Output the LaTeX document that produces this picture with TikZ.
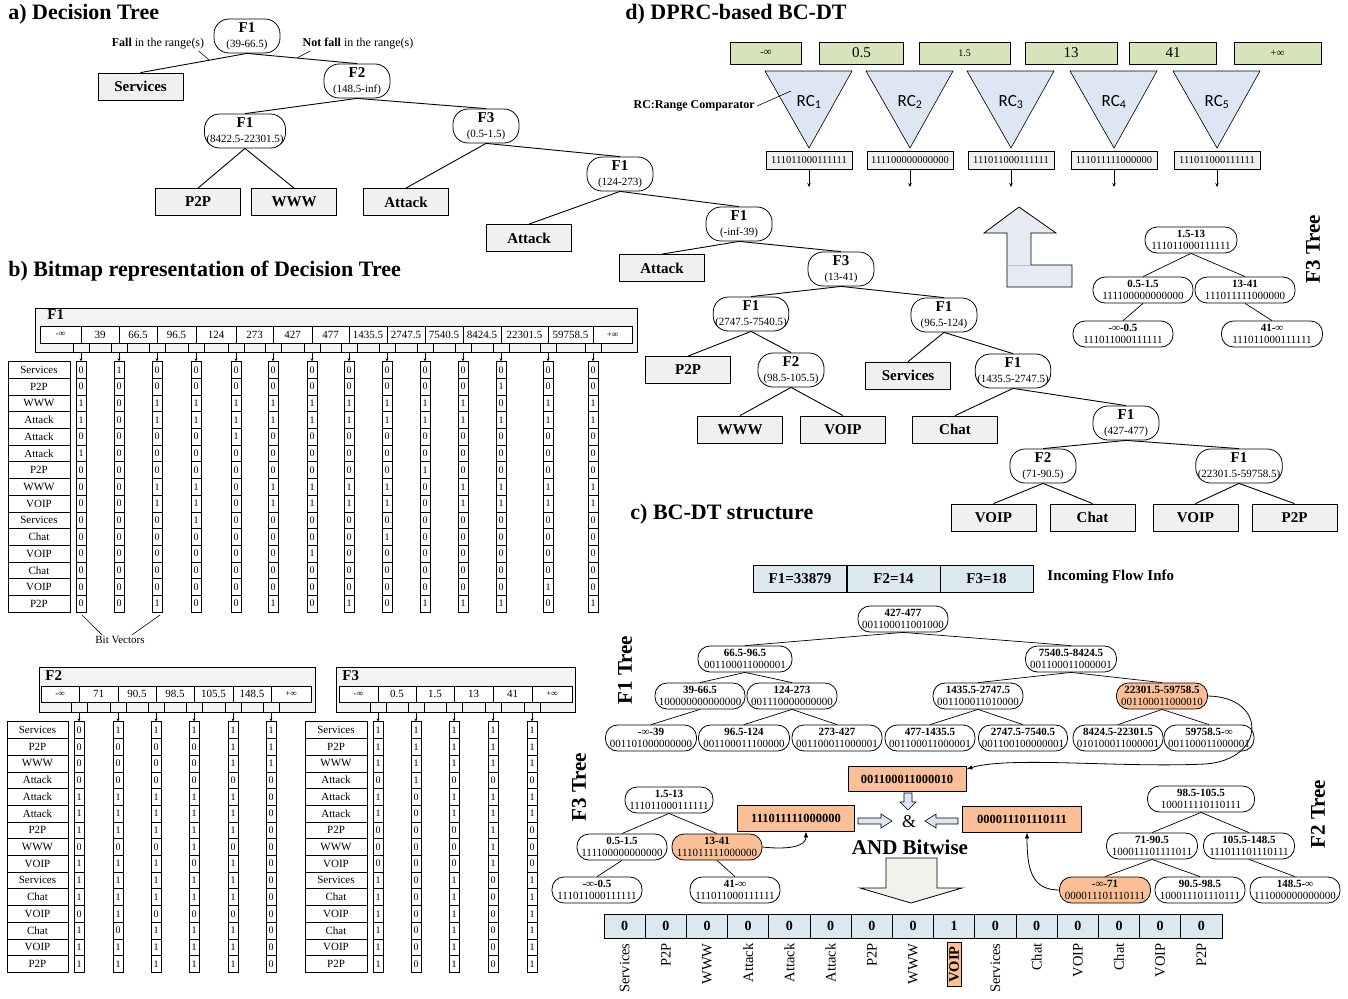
\documentclass[tikz,border=0pt]{standalone}
\usepackage{fontspec}
\setmainfont{Liberation Serif}
\newfontfamily\rcfont{Carlito}
\usetikzlibrary{arrows.meta}
\definecolor{orangeF}{RGB}{250,191,150}
\definecolor{blueF}{RGB}{219,232,240}
\definecolor{rcblue}{RGB}{221,231,243}
\definecolor{greenF}{RGB}{214,227,187}
\definecolor{leafgray}{RGB}{240,240,240}
\definecolor{tablegray}{RGB}{243,243,243}
\definecolor{bigarrow}{RGB}{242,242,236}
\definecolor{larrow}{RGB}{230,235,243}
\newcommand\fs[1]{\fontsize{#1}{#1}\selectfont}
\newcommand\dn[2]{{\fs{15}\bfseries #1}\\[4pt]{#2}}
\newcommand\tn[2]{{\bfseries #1}\\[1pt]{#2}}
\begin{document}
\begin{tikzpicture}[x=1pt,y=-1pt,line width=0.8pt,
 dnode/.style={draw, rounded corners=15pt, minimum width=66pt, minimum height=34pt, inner xsep=2pt, inner ysep=0pt, align=center, font=\fs{11}},
 leaf/.style={draw, fill=leafgray, minimum width=85pt, minimum height=27pt, inner sep=0pt, font=\fs{15}\bfseries},
 tnode/.style={draw, rounded corners=12pt, minimum height=26pt, inner xsep=0pt, inner ysep=0pt, align=center, font=\fs{11}},
 hot/.style={fill=orangeF},
 title/.style={font=\fs{22}\bfseries, anchor=west, inner sep=0pt},
 vtitle/.style={font=\fs{21}\bfseries, rotate=90, inner sep=0pt},
 edge/.style={draw, line width=0.9pt},
 tedge/.style={draw, line width=0.7pt},
 note/.style={font=\fs{11}, inner sep=0pt},
 bit/.style={draw, line width=0.6pt, minimum width=10pt, minimum height=16.7pt, inner sep=0pt, font=\fs{10}},
 lab/.style={draw, line width=0.6pt, minimum height=16.7pt, inner sep=0pt, font=\fs{11}},
 bitarrow/.style={-{Stealth[length=3pt,width=3pt]}, line width=0.6pt},
 bracket/.style={line width=0.6pt},
 gbox/.style={draw, fill=greenF, minimum height=22pt, inner sep=0pt},
 vbox/.style={draw, fill=leafgray, minimum width=86pt, minimum height=18pt, inner sep=0pt, font=\fs{10.5}},
 obox/.style={draw, fill=orangeF, minimum height=25pt, inner sep=0pt, font=\fs{12.5}\bfseries},
 fbox/.style={draw, fill=blueF, minimum width=93pt, minimum height=27pt, inner sep=0pt, font=\fs{15}\bfseries},
 rcell/.style={draw, fill=blueF, minimum width=41.2pt, minimum height=24pt, inner sep=0pt, font=\fs{14}\bfseries},
 rl/.style={rotate=90, anchor=east, font=\fs{14.5}, inner sep=1pt},
 rlhi/.style={rotate=90, anchor=east, font=\fs{14.5}\bfseries, draw, fill=orangeF, inner xsep=4pt, inner ysep=2pt},
 curve/.style={-{Latex[length=6pt,width=4.5pt]}, line width=0.8pt},
 hollow/.style={draw, fill=rcblue, line width=0.6pt},
 downarrow/.style={-{Stealth[length=4pt,width=3.5pt]}, line width=0.7pt},
]
\useasboundingbox (0,0) rectangle (1348,998);

%%%%%%%%%%%%%%%% a) Decision tree
\node[title] (ta) at (8,14) {a) Decision Tree};
\node[dnode] (a1) at (247,36) {\dn{F1}{(39-66.5)}};
\node[leaf] (a2) at (140.5,86.5) {Services};
\node[dnode] (a3) at (357,81) {\dn{F2}{(148.5-inf)}};
\node[dnode] (a4) at (245,131) {\dn{F1}{(8422.5-22301.5)}};
\node[dnode] (a5) at (486,126) {\dn{F3}{(0.5-1.5)}};
\node[leaf] (a6) at (198,202) {P2P};
\node[leaf] (a7) at (294,202) {WWW};
\node[leaf] (a8) at (406,202) {Attack};
\node[dnode] (a9) at (620,174) {\dn{F1}{(124-273)}};
\node[leaf] (a10) at (529,238) {Attack};
\node[dnode] (a11) at (739,224) {\dn{F1}{(-inf-39)}};
\node[leaf] (a12) at (662,268) {Attack};
\node[dnode] (a13) at (841,269) {\dn{F3}{(13-41)}};
\node[dnode] (a14) at (751,314) {\dn{F1}{(2747.5-7540.5)}};
\node[dnode] (a15) at (944,315) {\dn{F1}{(96.5-124)}};
\node[leaf] (a16) at (688,370) {P2P};
\node[dnode] (a17) at (791,370) {\dn{F2}{(98.5-105.5)}};
\node[leaf] (a18) at (908,375.5) {Services};
\node[leaf] (a19) at (740,429.5) {WWW};
\node[leaf] (a20) at (843,429.5) {VOIP};
\node[dnode] (a21) at (1013,371) {\dn{F1}{(1435.5-2747.5)}};
\node[leaf] (a22) at (955,429.5) {Chat};
\node[dnode] (a23) at (1126,423) {\dn{F1}{(427-477)}};
\node[dnode] (a24) at (1043,466) {\dn{F2}{(71-90.5)}};
\node[dnode] (a25) at (1239,466) {\dn{F1}{(22301.5-59758.5)}};
\node[leaf] (a26) at (993.5,517.5) {VOIP};
\node[leaf] (a27) at (1092.5,517.5) {Chat};
\node[leaf] (a28) at (1195.5,517.5) {VOIP};
\node[leaf] (a29) at (1294.5,517.5) {P2P};
\foreach \p/\q in {a1/a2,a1/a3,a3/a4,a3/a5,a4/a6,a4/a7,a5/a8,a5/a9,a9/a10,a9/a11,a11/a12,a11/a13,a13/a14,a13/a15,a14/a16,a14/a17,a17/a19,a17/a20,a15/a18,a15/a21,a21/a22,a21/a23,a23/a24,a23/a25,a24/a26,a24/a27,a25/a28,a25/a29}
  \draw[edge] (\p.south) -- (\q.north);
\node[font=\fs{12}, inner sep=0pt] (fall) at (158,44) {\textbf{Fall} in the range(s)};
\coordinate (fallt) at (209,60);
\draw[line width=0.6pt] ([xshift=-6pt,yshift=-1pt]fall.south east) -- (fallt);
\node[font=\fs{12}, inner sep=0pt] (nfall) at (358,44) {\textbf{Not fall} in the range(s)};
\coordinate (nfallt) at (297,58);
\draw[line width=0.6pt] ([xshift=8pt,yshift=-1pt]nfall.south west) -- (nfallt);

%%%%%%%%%%%%%%%% b) Bitmap
\node[title] (tb) at (8,271) {b) Bitmap representation of Decision Tree};
% F1 table
\draw[fill=tablegray, line width=0.6pt] (35,308) rectangle (637,352);
\node[font=\fs{15}\bfseries, anchor=west, inner sep=0pt] (f1h) at (47,315) {F1};
\foreach \xa/\xb/\txt [count=\i] in {40/81/{\fs{9}-∞},81/119/39,119/157/66.5,157/196/96.5,196/236/124,236/273/273,273/312/427,312/349/477,349/387/1435.5,387/425/2747.5,425/463/7540.5,463/501/8424.5,501/548/22301.5,548/593/59758.5,593/632/{\fs{9}+∞}}{
  \draw[fill=white, line width=0.6pt] (\xa,326) rectangle (\xb,343);
  \node[note] (f1c\i) at ({(\xa+\xb)/2},334.5) {\txt};
}
\foreach \row [count=\ri] in {{0,1,0,0,0,0,0,0,0,0,0,0,0,0},{0,0,0,0,0,0,0,0,0,0,0,1,0,0},{1,0,1,1,1,1,1,1,1,1,1,0,1,1},{1,0,1,1,1,1,1,1,1,1,1,1,1,1},{0,0,0,0,1,0,0,0,0,0,0,0,0,0},{1,0,0,0,0,0,0,0,0,0,0,0,0,0},{0,0,0,0,0,0,0,0,0,1,0,0,0,0},{0,0,1,1,0,1,1,1,1,0,1,1,1,1},{0,0,1,1,0,1,1,1,1,0,1,1,1,1},{0,0,0,1,0,0,0,0,0,0,0,0,0,0},{0,0,0,0,0,0,0,0,1,0,0,0,0,0},{0,0,0,0,0,0,1,0,0,0,0,0,0,0},{0,0,0,0,0,0,0,0,0,0,0,0,0,0},{0,0,0,0,0,0,0,0,0,0,0,0,1,0},{0,0,1,0,0,1,0,1,0,1,1,1,0,1}}{
  \foreach \v [count=\ci] in \row {
    \pgfmathsetmacro\cx{{81,119,157,196,236,273,312,349,387,425,463,501,548,593}[\ci-1]}
    \node[bit] (f1b-\ri-\ci) at (\cx,{361.5+16.7*(\ri-0.5)}) {\v};
  }
}
\foreach \txt [count=\ri] in {Services,P2P,WWW,Attack,Attack,Attack,P2P,WWW,VOIP,Services,Chat,VOIP,Chat,VOIP,P2P}
  \node[lab, minimum width=62pt] (f1l\ri) at (39,{361.5+16.7*(\ri-0.5)}) {\txt};
\foreach \b [count=\ci] in {81,119,157,196,236,273,312,349,387,425,463,501,548,593}{
  \draw[bracket] (\b-8,343) -- (\b-8,352) -- (\b+8,352) -- (\b+8,343);
  \draw[bitarrow] (\b,352) -- (f1b-1-\ci.north);
}
\node[note] (bv) at (120,640) {Bit Vectors};
\coordinate (bv1) at (82,615);
\coordinate (bv2) at (160,615);
\draw[line width=0.6pt] ([xshift=-18pt,yshift=1pt]bv.north) -- (bv1);
\draw[line width=0.6pt] ([xshift=12pt,yshift=1pt]bv.north) -- (bv2);

% F2 table
\draw[fill=tablegray, line width=0.6pt] (39,667) rectangle (315,712);
\node[font=\fs{15}\bfseries, anchor=west, inner sep=0pt] (f2h) at (45,676) {F2};
\foreach \xa/\xb/\txt [count=\i] in {41/79/{\fs{9}-∞},79/118/71,118/156/90.5,156/194/98.5,194/233/105.5,233/271/148.5,271/311/{\fs{9}+∞}}{
  \draw[fill=white, line width=0.6pt] (\xa,686) rectangle (\xb,702);
  \node[note] (f2c\i) at ({(\xa+\xb)/2},694) {\txt};
}
\foreach \row [count=\ri] in {{0,1,1,1,1,1},{0,0,0,0,1,1},{0,0,0,0,1,1},{0,0,0,0,0,0},{1,1,1,1,1,0},{1,1,1,1,1,0},{1,1,1,1,1,0},{0,0,0,1,0,0},{1,1,1,0,1,0},{1,1,1,1,1,0},{1,1,1,1,1,0},{0,1,0,0,0,0},{1,0,1,1,1,0},{1,1,1,1,1,0},{1,1,1,1,1,0}}{
  \foreach \v [count=\ci] in \row {
    \pgfmathsetmacro\cx{{79,118,156,194,233,271}[\ci-1]}
    \node[bit] (f2b-\ri-\ci) at (\cx,{721.7+16.7*(\ri-0.5)}) {\v};
  }
}
\foreach \txt [count=\ri] in {Services,P2P,WWW,Attack,Attack,Attack,P2P,WWW,VOIP,Services,Chat,VOIP,Chat,VOIP,P2P}
  \node[lab, minimum width=61pt] (f2l\ri) at (37.5,{721.7+16.7*(\ri-0.5)}) {\txt};
\foreach \b [count=\ci] in {79,118,156,194,233,271}{
  \draw[bracket] (\b-8,702) -- (\b-8,712) -- (\b+8,712) -- (\b+8,702);
  \draw[bitarrow] (\b,712) -- (f2b-1-\ci.north);
}

% F3 table
\draw[fill=tablegray, line width=0.6pt] (336,667) rectangle (575,712);
\node[font=\fs{15}\bfseries, anchor=west, inner sep=0pt] (f3h) at (342,676) {F3};
\foreach \xa/\xb/\txt [count=\i] in {339/378/{\fs{9}-∞},378/416/0.5,416/454/1.5,454/493/13,493/532/41,532/572/{\fs{9}+∞}}{
  \draw[fill=white, line width=0.6pt] (\xa,686) rectangle (\xb,702);
  \node[note] (f3c\i) at ({(\xa+\xb)/2},694) {\txt};
}
\foreach \row [count=\ri] in {{1,1,1,1,1},{1,1,1,1,1},{1,1,1,1,1},{0,1,0,0,0},{1,0,1,1,1},{1,0,1,1,1},{0,0,0,1,0},{0,0,0,1,0},{0,0,0,1,0},{1,0,1,0,1},{1,0,1,0,1},{1,0,1,0,1},{1,0,1,0,1},{1,0,1,0,1},{1,0,1,0,1}}{
  \foreach \v [count=\ci] in \row {
    \pgfmathsetmacro\cx{{378,416,454,493,532}[\ci-1]}
    \node[bit] (f3b-\ri-\ci) at (\cx,{721.7+16.7*(\ri-0.5)}) {\v};
  }
}
\foreach \txt [count=\ri] in {Services,P2P,WWW,Attack,Attack,Attack,P2P,WWW,VOIP,Services,Chat,VOIP,Chat,VOIP,P2P}
  \node[lab, minimum width=62pt] (f3l\ri) at (336,{721.7+16.7*(\ri-0.5)}) {\txt};
\foreach \b [count=\ci] in {378,416,454,493,532}{
  \draw[bracket] (\b-8,702) -- (\b-8,712) -- (\b+8,712) -- (\b+8,702);
  \draw[bitarrow] (\b,712) -- (f3b-1-\ci.north);
}

%%%%%%%%%%%%%%%% d) DPRC
\node[title] (td) at (625,14) {d) DPRC-based BC-DT};
\node[gbox, minimum width=71pt, font=\fs{11}] (g1) at (766,53) {-∞};
\node[gbox, minimum width=84pt, font=\fs{15}] (g2) at (861.5,53) {0.5};
\node[gbox, minimum width=91pt, font=\fs{10}] (g3) at (964.5,53) {1.5};
\node[gbox, minimum width=92pt, font=\fs{15}] (g4) at (1071,53) {13};
\node[gbox, minimum width=87pt, font=\fs{15}] (g5) at (1173,53) {41};
\node[gbox, minimum width=87pt, font=\fs{11}] (g6) at (1277.5,53) {+∞};
\foreach \xl/\xr/\xm/\bits [count=\i] in {765/852/809/111011000111111,866/953/910/111100000000000,967/1054/1011/111011000111111,1070/1157/1114/111011111000000,1173/1260/1217/111011000111111}{
  \draw[fill=rcblue, line width=0.6pt] (\xl,71) -- (\xr,71) -- (\xm,148) -- cycle;
  \node[font=\rcfont\fs{17}, inner sep=0pt] (rc\i) at (\xm,102) {RC\textsubscript{\i}};
  \node[vbox] (v\i) at (\xm,160) {\bits};
  \coordinate (vo\i) at (\xm,187);
  \draw[downarrow] (v\i.south) -- (vo\i);
}
\node[font=\fs{12}\bfseries, anchor=east, inner sep=0pt] (rclab) at (755,106) {RC:Range Comparator};
\coordinate (rcpt) at (791,91);
\draw[line width=0.6pt] ([xshift=2pt]rclab.east) -- (rcpt);
% L-shaped block arrow
\draw[fill=larrow, line width=0.8pt] (1019,207) -- (1056,233) -- (1031,233) -- (1031,265) -- (1072,265) -- (1072,287) -- (1007,287) -- (1007,233) -- (984,233) -- cycle;
\draw[gray!50, line width=0.5pt] (1007,265) -- (1031,265);
% F3 tree (d)
\node[vtitle] (d0) at (1313,249) {F3 Tree};
\node[tnode, minimum width=92pt] (d1) at (1191,240) {\tn{1.5-13}{111011000111111}};
\node[tnode, minimum width=100pt] (d2) at (1143,290) {\tn{0.5-1.5}{111100000000000}};
\node[tnode, minimum width=100pt] (d3) at (1245,290) {\tn{13-41}{111011111000000}};
\node[tnode, minimum width=100pt] (d4) at (1123,334) {\tn{-∞-0.5}{111011000111111}};
\node[tnode, minimum width=101pt] (d5) at (1272,334) {\tn{41-∞}{111011000111111}};
\foreach \p/\q in {d1/d2,d1/d3,d2/d4,d3/d5} \draw[tedge] (\p.south) -- (\q.north);

%%%%%%%%%%%%%%%% c) BC-DT structure
\node[title] (tc) at (630,514) {c) BC-DT structure};
\node[fbox] (fl1) at (800,578.5) {F1=33879};
\node[fbox] (fl2) at (893.5,578.5) {F2=14};
\node[fbox] (fl3) at (986.5,578.5) {F3=18};
\node[font=\fs{15}\bfseries, anchor=west, inner sep=0pt] (flt) at (1047,577) {Incoming Flow Info};
% F1 tree
\node[vtitle] (c0) at (625,670) {F1 Tree};
\node[tnode, minimum width=90pt] (c1) at (903,619) {\tn{427-477}{001100011001000}};
\node[tnode, minimum width=94pt] (c2) at (745,659) {\tn{66.5-96.5}{001100011000001}};
\node[tnode, minimum width=90pt] (c3) at (700,696) {\tn{39-66.5}{100000000000000}};
\node[tnode, minimum width=90pt] (c4) at (792,696) {\tn{124-273}{001110000000000}};
\node[tnode, minimum width=91pt] (c5) at (651,738) {\tn{-∞-39}{001101000000000}};
\node[tnode, minimum width=91pt] (c6) at (744,738) {\tn{96.5-124}{001100011100000}};
\node[tnode, minimum width=90pt] (c7) at (837,738) {\tn{273-427}{001100011000001}};
\node[tnode, minimum width=90pt] (c8) at (930,738) {\tn{477-1435.5}{001100011000001}};
\node[tnode, minimum width=91pt] (c9) at (1071,659) {\tn{7540.5-8424.5}{001100011000001}};
\node[tnode, minimum width=90pt] (c10) at (978,696) {\tn{1435.5-2747.5}{001100011010000}};
\node[tnode, hot, minimum width=91pt] (c11) at (1162,696) {\tn{22301.5-59758.5}{001100011000010}};
\node[tnode, minimum width=89pt] (c12) at (1023,738) {\tn{2747.5-7540.5}{001100100000001}};
\node[tnode, minimum width=90pt] (c13) at (1118,738) {\tn{8424.5-22301.5}{010100011000001}};
\node[tnode, minimum width=90pt] (c14) at (1209,738) {\tn{59758.5-∞}{001100011000001}};
\foreach \p/\q in {c1/c2,c1/c9,c2/c3,c2/c4,c3/c5,c4/c6,c4/c7,c9/c10,c9/c11,c10/c8,c10/c12,c11/c13,c11/c14} \draw[tedge] (\p.south) -- (\q.north);
% F3 tree (c)
\node[vtitle] (e0) at (579,787) {F3 Tree};
\node[tnode, minimum width=88pt] (e1) at (669,800) {\tn{1.5-13}{111011000111111}};
\node[tnode, minimum width=90pt] (e2) at (622,847) {\tn{0.5-1.5}{111100000000000}};
\node[tnode, hot, minimum width=90pt] (e3) at (717,847) {\tn{13-41}{111011111000000}};
\node[tnode, minimum width=90pt] (e4) at (597,890) {\tn{-∞-0.5}{111011000111111}};
\node[tnode, minimum width=90pt] (e5) at (735,890) {\tn{41-∞}{111011000111111}};
\foreach \p/\q in {e1/e2,e1/e3,e2/e4,e3/e5} \draw[tedge] (\p.south) -- (\q.north);
% F2 tree (c)
\node[vtitle] (h0) at (1318,814) {F2 Tree};
\node[tnode, minimum width=107pt] (h1) at (1201,799) {\tn{98.5-105.5}{100011110110111}};
\node[tnode, minimum width=91pt] (h2) at (1152,846) {\tn{71-90.5}{100011101111011}};
\node[tnode, minimum width=91pt] (h3) at (1249,846) {\tn{105.5-148.5}{111011101110111}};
\node[tnode, hot, minimum width=91pt] (h4) at (1105,890) {\tn{-∞-71}{000011101110111}};
\node[tnode, minimum width=90pt] (h5) at (1200,890) {\tn{90.5-98.5}{100011101110111}};
\node[tnode, minimum width=90pt] (h6) at (1295,890) {\tn{148.5-∞}{111000000000000}};
\foreach \p/\q in {h1/h2,h1/h3,h2/h4,h2/h5,h3/h6} \draw[tedge] (\p.south) -- (\q.north);
% selected vectors
\node[obox, minimum width=118pt] (o1) at (907,779) {001100011000010};
\node[obox, minimum width=117pt, minimum height=26pt] (o2) at (796,818) {111011111000000};
\node[obox, minimum width=119pt, minimum height=26pt] (o3) at (1022,819) {000011101110111};
\draw[curve] (c11.east) .. controls (1268,697) and (1266,760) .. (1205,764) .. controls (1120,768) and (1010,756) .. ([yshift=-3pt]o1.north east);
\draw[curve] (e3.east) .. controls (790,850) and (806,846) .. ([xshift=10pt]o2.south);
\draw[curve] (h4.west) .. controls (1032,890) and (1027,870) .. ([xshift=5pt]o3.south);
% hollow arrows
\draw[hollow] (904,793) -- (912,793) -- (912,802) -- (916,802) -- (908,810) -- (900,802) -- (904,802) -- cycle;
\draw[hollow] (858,818) -- (881,818) -- (881,814) -- (892,821) -- (881,828) -- (881,824) -- (858,824) -- cycle;
\draw[hollow] (958,818) -- (936,818) -- (936,814) -- (925,821) -- (936,828) -- (936,824) -- (958,824) -- cycle;
\node[font=\fs{18}, inner sep=0pt] (amp) at (909,822) {\&};
\node[font=\fs{21}\bfseries, inner sep=0pt] (andb) at (910,847) {AND Bitwise};
\draw[fill=bigarrow, line width=0.8pt] (886,858) -- (937,858) -- (937,888) -- (962,888) -- (911,903) -- (860,888) -- (886,888) -- cycle;
% result vector
\foreach \v/\txt/\st [count=\i] in {0/Services/rl,0/P2P/rl,0/WWW/rl,0/Attack/rl,0/Attack/rl,0/Attack/rl,0/P2P/rl,0/WWW/rl,1/VOIP/rlhi,0/Services/rl,0/Chat/rl,0/VOIP/rl,0/Chat/rl,0/VOIP/rl,0/P2P/rl}{
  \pgfmathsetmacro\cx{604+41.2*(\i-0.5)}
  \node[rcell] (r\i) at (\cx,926) {\v};
  \node[\st] (rl\i) at (\cx,942) {\txt};
}
\end{tikzpicture}
\end{document}
